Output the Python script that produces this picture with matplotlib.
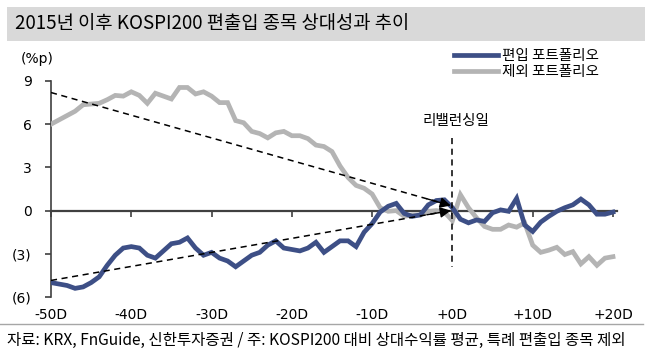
import numpy as np
import matplotlib
matplotlib.use("Agg")
import matplotlib.pyplot as plt
from matplotlib.patches import Rectangle
from matplotlib.lines import Line2D

plt.rcParams["font.family"] = ["Noto Sans CJK KR", "DejaVu Sans"]

NAVY = "#3D4F86"
GRAY = "#B4B4B4"
DARK = "#404040"

# ── data ─────────────────────────────────────────────────────────────────────
days = np.arange(-50, 21)

included = [  # 편입 포트폴리오, %p
    -5.0, -5.1, -5.2, -5.4, -5.3, -5.0, -4.6, -3.8, -3.1, -2.6,
    -2.5, -2.6, -3.1, -3.3, -2.8, -2.3, -2.2, -1.9, -2.6, -3.1,
    -2.9, -3.3, -3.5, -3.9, -3.5, -3.1, -2.9, -2.4, -2.1, -2.6,
    -2.7, -2.8, -2.6, -2.2, -2.9, -2.5, -2.1, -2.1, -2.5, -1.5,
    -0.9, -0.1, 0.3, 0.5, -0.2, -0.4, -0.3, 0.4, 0.7, 0.75,
    0.2, -0.6, -0.85, -0.65, -0.75, -0.15, 0.05, -0.05, 0.85, -1.0,
    -1.45, -0.8, -0.4, -0.05, 0.2, 0.4, 0.8, 0.4, -0.25, -0.25,
    -0.1,
]
excluded = [  # 제외 포트폴리오, %p
    6.0, 6.3, 6.6, 6.9, 7.35, 7.4, 7.45, 7.7, 8.0, 7.95,
    8.25, 8.0, 7.45, 8.15, 7.95, 7.75, 8.55, 8.55, 8.1, 8.25,
    7.95, 7.5, 7.5, 6.25, 6.1, 5.5, 5.35, 5.05, 5.4, 5.5,
    5.2, 5.2, 5.0, 4.55, 4.45, 4.1, 3.1, 2.3, 1.75, 1.55,
    1.15, 0.2, -0.05, 0.0, -0.4, -0.3, -0.3, -0.05, 0.0, -0.1,
    -0.7, 1.1, 0.2, -0.5, -1.1, -1.3, -1.3, -1.0, -1.15, -0.85,
    -2.4, -2.9, -2.75, -2.55, -3.05, -2.85, -3.7, -3.2, -3.8, -3.3,
    -3.2,
]

# dashed trend arrows: (start day, start value) -> (end day, end value)
trend_upper = [(-50, 8.2), (-0.2, 0.35)]
trend_lower = [(-50, -4.85), (-0.2, 0.0)]

xticks = [-50, -40, -30, -20, -10, 0, 10, 20]
xlabels = ["-50D", "-40D", "-30D", "-20D", "-10D", "+0D", "+10D", "+20D"]
yticks = [9, 6, 3, 0, -3, -6]
ylabels = ["9", "6", "3", "0", "(3)", "(6)"]

# ── figure ───────────────────────────────────────────────────────────────────
W, H = 657, 362
fig = plt.figure(figsize=(W / 100, H / 100), dpi=100)
ax = fig.add_axes([51 / W, (H - 297) / H, (617 - 51) / W, (297 - 81) / H])

# title bar
fig.patches.append(Rectangle((7 / W, (H - 41) / H), (645 - 7) / W, 34 / H,
                             transform=fig.transFigure, facecolor="#D9D9D9",
                             edgecolor="none", zorder=0))
fig.text(15 / W, (H - 24) / H, "2015년 이후 KOSPI200 편출입 종목 상대성과 추이",
         fontsize=13.5, va="center", ha="left", color="black")

# series
ax.plot(days, excluded, color=GRAY, lw=3.4, solid_joinstyle="miter", zorder=3)
ax.plot(days, included, color=NAVY, lw=3.4, solid_joinstyle="miter", zorder=4)

# trend arrows
for (x0, y0), (x1, y1) in (trend_upper, trend_lower):
    ax.plot([x0, x1], [y0, y1], color="black", lw=1.1, ls=(0, (4, 3)), zorder=5)
    t = 0.94
    ax.annotate("", xy=(x1, y1), xytext=(x0 + t * (x1 - x0), y0 + t * (y1 - y0)),
                arrowprops=dict(arrowstyle="-|>", color="black", lw=1.0,
                                mutation_scale=16, shrinkA=0, shrinkB=0),
                zorder=6)

# rebalancing day marker
ax.plot([0, 0], [5.05, -3.95], color="black", lw=1.1, ls=(0, (4, 3)), zorder=5)
ax.text(0.4, 6.2, "리밸런싱일", ha="center", va="center", fontsize=10.5)

# axes styling
ax.set_xlim(-50, 20.5)
ax.set_ylim(-6, 9)
for s in ("top", "right"):
    ax.spines[s].set_visible(False)
ax.spines["left"].set_color(DARK)
ax.spines["left"].set_linewidth(1.2)
ax.spines["bottom"].set_position(("data", 0))
ax.spines["bottom"].set_color(DARK)
ax.spines["bottom"].set_linewidth(1.6)
ax.spines["bottom"].set_zorder(2)

ax.set_yticks(yticks)
ax.set_yticklabels(ylabels, family="DejaVu Sans")
ax.tick_params(axis="y", direction="out", length=4, width=1.2, color=DARK,
               labelsize=10, pad=10, labelcolor="black")
ax.set_xticks(xticks)
ax.tick_params(axis="x", direction="out", length=4, width=1.2, color=DARK,
               labelbottom=False)
for xv, lab in zip(xticks, xlabels):
    ax.text(xv, -0.085, lab, transform=ax.get_xaxis_transform(), ha="center",
            va="center", fontsize=10, family="DejaVu Sans")

fig.text(37 / W, (H - 59) / H, "(%p)", ha="center", va="center", fontsize=10,
         family="DejaVu Sans")

# legend
handles = [Line2D([], [], color=NAVY, lw=3.4), Line2D([], [], color=GRAY, lw=3.4)]
fig.legend(handles, ["편입 포트폴리오", "제외 포트폴리오"], loc="upper left",
           bbox_to_anchor=(447 / W, (H - 42) / H), frameon=False, fontsize=10.5,
           handlelength=3.0, handletextpad=0.3, labelspacing=0.1, borderpad=0)

# footer
fig.add_artist(Line2D([0, 643 / W], [(H - 324) / H] * 2, transform=fig.transFigure,
                      color="#A6A6A6", lw=1))
fig.text(7 / W, (H - 340) / H,
         "자료: KRX, FnGuide, 신한투자증권 / 주: KOSPI200 대비 상대수익률 평균, 특례 편출입 종목 제외",
         ha="left", va="center", fontsize=11.2)

fig.savefig("out.png", dpi=100)
